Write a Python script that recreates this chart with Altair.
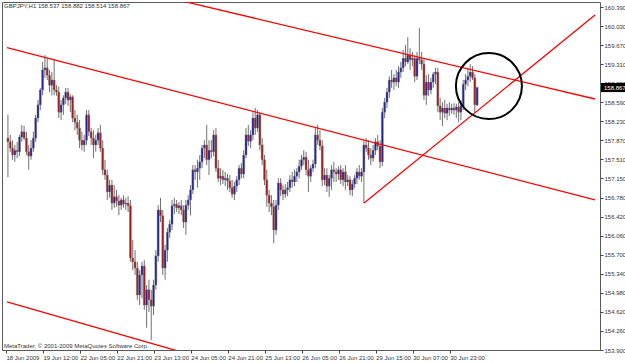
import altair as alt
import pandas as pd

header = "GBPJPY,H1  158.537 158.882 158.514 158.867"
footer = "MetaTrader, \u00a9 2001-2009 MetaQuotes Software Corp."
last_price = 158.867

opens = [
    157.91, 157.84, 157.72, 157.59, 157.68, 157.65, 157.93, 158.03, 157.91, 157.65,
    157.57, 157.72, 157.91, 158.29, 158.54, 158.82, 159.20, 159.24, 159.10, 158.91,
    159.01, 158.82, 158.78, 158.40, 158.54, 158.67, 158.78, 158.63, 158.69, 158.29,
    158.21, 158.10, 157.87, 157.78, 157.87, 158.35, 158.03, 157.91, 157.78, 157.87,
    158.01, 157.72, 157.31, 157.21, 156.89, 157.02, 156.68, 156.80, 156.72, 156.64,
    156.74, 156.66, 156.68, 156.63, 155.64, 155.57, 155.45, 154.94, 155.32, 155.49,
    154.75, 155.04, 154.85, 154.73, 155.13, 155.68, 156.55, 156.44, 155.45, 155.79,
    156.13, 156.28, 156.63, 156.66, 156.59, 156.63, 156.55, 156.32, 156.64, 156.74,
    156.93, 157.31, 157.27, 157.34, 157.46, 157.72, 157.78, 157.50, 157.68, 157.65,
    157.97, 157.34, 157.15, 157.19, 157.12, 157.15, 157.10, 156.97, 156.85, 157.00,
    157.12, 157.34, 157.23, 157.59, 157.97, 157.85, 157.97, 158.29, 158.10, 158.35,
    157.78, 157.50, 157.12, 156.83, 156.68, 156.61, 156.17, 156.64, 157.06, 156.93,
    156.85, 156.93, 156.97, 157.12, 157.08, 157.19, 157.27, 157.38, 157.50, 157.55,
    157.31, 157.19, 157.34, 157.42, 157.97, 157.87, 157.76, 157.12, 157.21, 157.00,
    157.15, 157.31, 157.27, 157.23, 157.31, 157.12, 157.27, 157.08, 157.12, 156.93,
    157.04, 157.15, 157.27, 157.19, 157.27, 157.78, 157.72, 157.59, 157.53, 157.68,
    157.84, 157.76, 157.46, 158.40, 158.59, 158.78, 159.01, 158.97, 159.05, 158.97,
    159.16, 159.24, 159.42, 159.35, 159.48, 159.39, 159.42, 159.08, 159.42, 159.39,
    159.31, 158.72, 158.97, 158.82, 158.97, 159.12, 159.16, 158.52, 158.40, 158.48,
    158.38, 158.48, 158.44, 158.48, 158.44, 158.50, 158.40, 158.52, 158.93, 159.01,
    159.08, 159.16, 159.05, 158.537,
]
highs = [
    158.35, 157.97, 157.87, 157.78, 157.84, 157.97, 158.16, 158.14, 158.03, 157.78,
    157.87, 158.03, 158.35, 158.63, 158.86, 159.35, 159.48, 159.42, 159.20, 159.16,
    159.39, 158.91, 158.89, 158.63, 158.72, 158.86, 158.86, 158.74, 158.72, 158.44,
    158.35, 158.25, 158.03, 157.97, 158.44, 158.44, 158.10, 158.06, 157.97, 158.10,
    158.16, 157.87, 157.50, 157.31, 157.12, 157.12, 157.02, 156.93, 156.83, 156.78,
    156.83, 156.78, 156.81, 156.74, 155.98, 155.79, 155.57, 155.41, 155.57, 155.60,
    155.13, 155.23, 155.04, 155.23, 155.79, 156.64, 156.78, 156.55, 155.89, 156.21,
    156.36, 156.74, 156.78, 156.74, 156.70, 156.74, 156.64, 156.74, 156.83, 157.02,
    157.40, 157.40, 157.50, 157.59, 157.78, 157.87, 158.16, 157.87, 157.87, 158.06,
    158.10, 157.50, 157.34, 157.31, 157.27, 157.23, 157.21, 157.12, 157.08, 157.19,
    157.40, 157.44, 157.68, 158.10, 158.16, 158.06, 158.40, 158.48, 158.44, 158.40,
    157.91, 157.59, 157.31, 156.93, 156.83, 156.74, 156.74, 157.15, 157.15, 157.02,
    157.04, 157.08, 157.21, 157.27, 157.31, 157.34, 157.50, 157.59, 157.68, 157.65,
    157.50, 157.40, 157.50, 158.10, 158.16, 158.06, 157.87, 157.34, 157.34, 157.21,
    157.40, 157.46, 157.34, 157.38, 157.40, 157.34, 157.40, 157.21, 157.19, 157.12,
    157.21, 157.34, 157.40, 157.34, 157.87, 157.91, 157.87, 157.72, 157.78, 157.91,
    157.97, 157.87, 158.48, 158.67, 158.86, 159.08, 159.20, 159.12, 159.20, 159.27,
    159.35, 159.58, 159.67, 159.82, 159.61, 159.54, 159.48, 159.54, 159.99, 159.54,
    159.42, 159.10, 159.12, 159.05, 159.16, 159.24, 159.24, 158.67, 158.59, 158.63,
    158.56, 158.59, 158.56, 158.57, 158.56, 158.59, 158.63, 159.01, 159.12, 159.24,
    159.31, 159.27, 159.12, 158.882,
]
lows = [
    157.17, 157.65, 157.50, 157.46, 157.53, 157.57, 157.84, 157.87, 157.59, 157.31,
    157.50, 157.65, 157.84, 158.21, 158.44, 158.72, 159.05, 159.01, 158.78, 158.72,
    158.72, 158.71, 158.29, 158.25, 158.35, 158.56, 158.52, 158.40, 158.21, 158.06,
    157.97, 157.72, 157.68, 157.65, 157.78, 157.95, 157.78, 157.53, 157.65, 157.78,
    157.65, 157.21, 157.12, 156.74, 156.78, 156.55, 156.59, 156.61, 156.45, 156.55,
    156.59, 156.55, 156.51, 155.57, 155.41, 155.32, 154.85, 154.75, 154.88, 154.66,
    154.32, 154.62, 154.09, 154.56, 155.04, 155.57, 156.32, 155.32, 155.23, 155.57,
    156.02, 156.17, 156.47, 156.51, 156.47, 156.45, 156.21, 156.08, 156.55, 156.45,
    156.85, 157.12, 156.97, 157.12, 157.34, 157.53, 157.40, 157.21, 157.53, 157.57,
    157.27, 157.08, 157.02, 157.04, 157.00, 156.93, 156.89, 156.78, 156.74, 156.89,
    157.02, 157.15, 157.15, 157.53, 157.76, 157.72, 157.87, 157.97, 158.03, 157.68,
    157.40, 157.02, 156.61, 156.51, 156.45, 155.92, 156.08, 156.55, 156.81, 156.74,
    156.78, 156.81, 156.89, 156.97, 157.00, 157.08, 157.15, 157.31, 157.40, 157.21,
    156.89, 157.08, 157.27, 157.34, 157.78, 157.68, 157.00, 157.02, 156.89, 156.80,
    156.93, 157.08, 157.08, 157.12, 157.04, 157.00, 156.93, 157.00, 156.83, 156.81,
    156.97, 157.04, 157.12, 157.08, 156.68, 157.65, 157.50, 157.40, 157.46, 157.59,
    157.68, 157.34, 157.38, 158.29, 158.48, 158.67, 158.86, 158.82, 158.89, 158.86,
    159.05, 159.16, 159.27, 159.31, 159.20, 159.27, 158.97, 159.01, 159.31, 159.20,
    158.63, 158.54, 158.71, 158.74, 158.86, 158.93, 158.40, 158.25, 158.14, 158.29,
    158.25, 158.33, 158.37, 158.35, 158.29, 158.21, 158.25, 158.44, 158.82, 158.89,
    158.97, 159.01, 158.40, 158.514,
]
closes = [
    157.84, 157.72, 157.59, 157.68, 157.65, 157.93, 158.03, 157.91, 157.65, 157.57,
    157.72, 157.91, 158.29, 158.54, 158.82, 159.20, 159.24, 159.10, 158.91, 159.01,
    158.82, 158.78, 158.40, 158.54, 158.67, 158.78, 158.63, 158.69, 158.29, 158.21,
    158.10, 157.87, 157.78, 157.87, 158.35, 158.03, 157.91, 157.78, 157.87, 158.01,
    157.72, 157.31, 157.21, 156.89, 157.02, 156.68, 156.80, 156.72, 156.64, 156.74,
    156.66, 156.68, 156.63, 155.64, 155.57, 155.45, 154.94, 155.32, 155.49, 154.75,
    155.04, 154.85, 154.73, 155.13, 155.68, 156.55, 156.44, 155.45, 155.79, 156.13,
    156.28, 156.63, 156.66, 156.59, 156.63, 156.55, 156.32, 156.64, 156.74, 156.93,
    157.31, 157.27, 157.34, 157.46, 157.72, 157.78, 157.50, 157.68, 157.65, 157.97,
    157.34, 157.15, 157.19, 157.12, 157.15, 157.10, 156.97, 156.85, 157.00, 157.12,
    157.34, 157.23, 157.59, 157.97, 157.85, 157.97, 158.29, 158.10, 158.35, 157.78,
    157.50, 157.12, 156.83, 156.68, 156.61, 156.17, 156.64, 157.06, 156.93, 156.85,
    156.93, 156.97, 157.12, 157.08, 157.19, 157.27, 157.38, 157.50, 157.55, 157.31,
    157.19, 157.34, 157.42, 157.97, 157.87, 157.76, 157.12, 157.21, 157.00, 157.15,
    157.31, 157.27, 157.23, 157.31, 157.12, 157.27, 157.08, 157.12, 156.93, 157.04,
    157.15, 157.27, 157.19, 157.27, 157.78, 157.72, 157.59, 157.53, 157.68, 157.84,
    157.76, 157.46, 158.40, 158.59, 158.78, 159.01, 158.97, 159.05, 158.97, 159.16,
    159.24, 159.42, 159.35, 159.48, 159.39, 159.42, 159.08, 159.42, 159.39, 159.31,
    158.72, 158.97, 158.82, 158.97, 159.12, 159.16, 158.52, 158.40, 158.48, 158.38,
    158.48, 158.44, 158.48, 158.44, 158.50, 158.40, 158.52, 158.93, 159.01, 159.08,
    159.16, 159.05, 158.54, 158.867,
]

time_labels = [
    "18 Jun 2009", "19 Jun 12:00", "22 Jun 05:00", "22 Jun 21:00", "23 Jun 13:00",
    "24 Jun 05:00", "24 Jun 21:00", "25 Jun 13:00", "26 Jun 05:00", "26 Jun 21:00",
    "29 Jun 15:00", "30 Jun 07:00", "30 Jun 23:00",
]
time_label_bars = [0, 16, 32, 48, 64, 80, 96, 112, 128, 144, 160, 176, 192]

price_ticks = [
    153.90, 154.26, 154.62, 154.98, 155.34, 155.70, 156.06, 156.42, 156.78, 157.15,
    157.51, 157.87, 158.23, 158.59, 158.95, 159.31, 159.67, 160.03, 160.39,
]

# hand-drawn trend lines: endpoints as (bar, price)
trend_names = ["upper", "upper", "middle", "middle", "lower", "lower", "rising", "rising"]
trend_bars = [70, 254, -0.4, 254, -0.4, 80, 154.1, 254]
trend_prices = [160.56, 158.65, 159.62, 156.74, 154.81, 153.80, 156.68, 160.24]

# marked circle around the latest bars
circle_bar = [208.1]
circle_price = [158.895]

n = len(opens)
assert len(highs) == n and len(lows) == n and len(closes) == n, (len(opens), len(highs), len(lows), len(closes))

bars_df = pd.DataFrame({"bar": list(range(n)), "open": opens, "high": highs, "low": lows, "close": closes})
trend_df = pd.DataFrame({"line": trend_names, "bar": trend_bars, "price": trend_prices})
circle_df = pd.DataFrame({"bar": circle_bar, "price": circle_price})
last_df = pd.DataFrame({"price": [last_price], "label": [f"{last_price:.3f}"]})
header_df = pd.DataFrame({"t": [header]})
footer_df = pd.DataFrame({"t": [footer]})

FONT = "Liberation Sans"
xs = alt.Scale(domain=[-0.4, 254], nice=False, zero=False)
ys = alt.Scale(domain=[153.9, 160.4855], nice=False, zero=False)

label_expr = "[" + ",".join("'" + t + "'" for t in time_labels) + "][round(datum.value/16)]"

x_axis = alt.Axis(
    values=time_label_bars, labelExpr=label_expr, orient="bottom", title=None,
    grid=False, domain=False, ticks=True, tickSize=3, tickColor="#444444",
    tickOffset=-2, labelAlign="left", labelBaseline="top", labelPadding=1,
    labelFontSize=6, labelFont=FONT, labelColor="#333333",
    labelOverlap=False, labelFlush=False, labelBound=False,
)
y_axis = alt.Axis(
    values=price_ticks, format=".3f", orient="right", title=None,
    grid=False, domain=False, ticks=True, tickSize=3, tickColor="#444444",
    labelPadding=1, labelFontSize=6, labelFont=FONT, labelColor="#333333",
    labelOverlap=False, labelFlush=False, labelBound=False, labelAlign="left",
    labelBaseline="middle",
)

wicks = alt.Chart(bars_df).mark_rule(color="#707070", strokeWidth=1).encode(
    x=alt.X("bar:Q", scale=xs, axis=x_axis),
    y=alt.Y("low:Q", scale=ys, axis=y_axis),
    y2="high:Q",
)

bodies = alt.Chart(bars_df).transform_calculate(
    dir="datum.close >= datum.open ? 'up' : 'down'"
).mark_bar(size=2, stroke="#808080", strokeWidth=0.4).encode(
    x=alt.X("bar:Q", scale=xs, axis=x_axis),
    y=alt.Y("open:Q", scale=ys, axis=y_axis),
    y2="close:Q",
    color=alt.Color("dir:N", scale=alt.Scale(domain=["up", "down"], range=["#1f1f9c", "#9e1a1a"]), legend=None),
)

trends = alt.Chart(trend_df).mark_line(color="#ff0000", strokeWidth=1.3, clip=True).encode(
    x=alt.X("bar:Q", scale=xs, axis=x_axis),
    y=alt.Y("price:Q", scale=ys, axis=y_axis),
    detail="line:N",
)

circle = alt.Chart(circle_df).mark_point(
    shape="circle", size=4356, filled=False, color="#000000", strokeWidth=2, opacity=1
).encode(
    x=alt.X("bar:Q", scale=xs, axis=x_axis),
    y=alt.Y("price:Q", scale=ys, axis=y_axis),
)

price_box = alt.Chart(last_df).mark_point(
    shape="M-1,-0.38L1,-0.38L1,0.38L-1,0.38Z", size=576, filled=True, color="#000000", opacity=1, clip=False
).encode(
    x=alt.value(611),
    y=alt.Y("price:Q", scale=ys, axis=y_axis),
)
price_text = alt.Chart(last_df).mark_text(
    align="left", baseline="middle", fontSize=6, font=FONT, color="#ffffff", clip=False
).encode(
    x=alt.value(602),
    y=alt.Y("price:Q", scale=ys, axis=y_axis),
    text="label:N",
)

header_text = alt.Chart(header_df).mark_text(
    align="left", baseline="middle", fontSize=6, font=FONT, color="#333333"
).encode(x=alt.value(2), y=alt.value(4), text="t:N")

footer_text = alt.Chart(footer_df).mark_text(
    align="left", baseline="middle", fontSize=6, font=FONT, color="#333333"
).encode(x=alt.value(2), y=alt.value(344), text="t:N")

chart = alt.layer(
    wicks, bodies, trends, circle, price_box, price_text, header_text, footer_text
).properties(
    width=598, height=348,
    padding={"left": 2, "top": 2, "right": 25, "bottom": 12},
    autosize=alt.AutoSizeParams(type="none"),
    background="#ffffff",
).configure_view(
    stroke="#5a5a5a", strokeWidth=1
).configure_axis(
    labelOverlap=False, labelFlush=False, labelBound=False
)

chart.save("out.html", embed_options={"renderer": "svg", "actions": False})
